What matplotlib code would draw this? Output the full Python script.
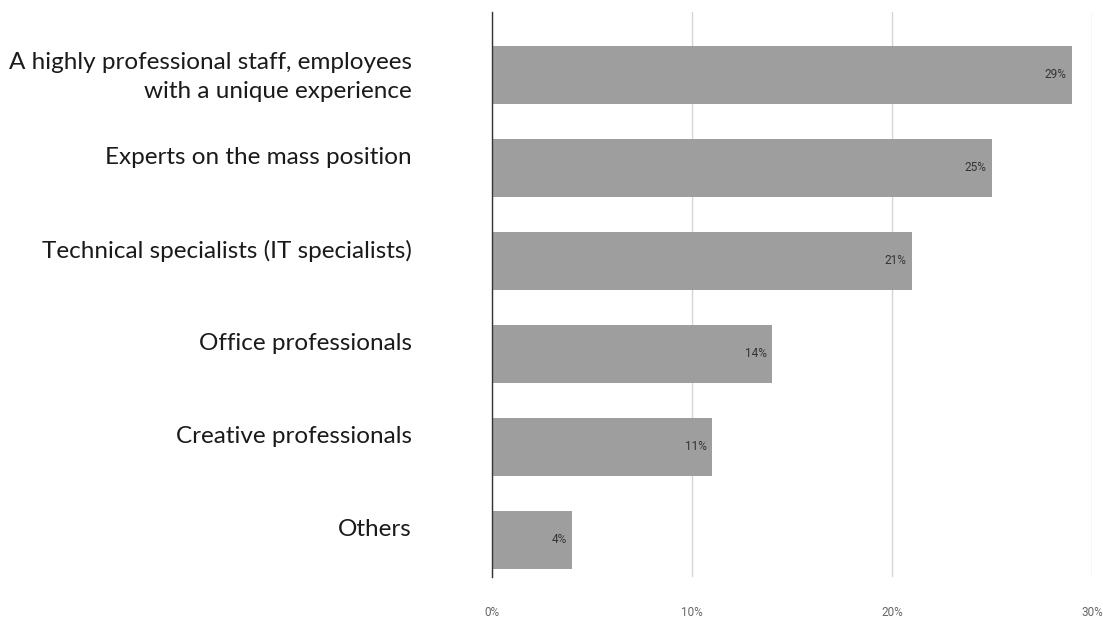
import matplotlib
matplotlib.use("Agg")
import matplotlib.pyplot as plt
import matplotlib.transforms as mtransforms
from matplotlib.ticker import FuncFormatter

categories = [
    "A highly professional staff, employees\nwith a unique experience",
    "Experts on the mass position",
    "Technical specialists (IT specialists)",
    "Office professionals",
    "Creative professionals",
    "Others",
]
values = [29, 25, 21, 14, 11, 4]
xticks = [0, 10, 20, 30]

W, H = 1103, 620
fig = plt.figure(figsize=(W / 100, H / 100), dpi=100)
ax = fig.add_axes([492 / W, 1 - 577 / H, (1092 - 492) / W, (577 - 12) / H])

pos = list(range(len(categories)))
ax.barh(pos, values, height=0.62, color="#9e9e9e", zorder=3)
ax.set_ylim(5.398, -0.677)
ax.set_xlim(0, 30)

for p, v in zip(pos, values):
    ax.annotate(f"{v}%", xy=(v, p), xytext=(-4, 0), textcoords="offset points",
                ha="right", va="center", fontsize=8.5, family="Roboto",
                color="#333333", zorder=4)

ax.set_xticks(xticks)
ax.xaxis.set_major_formatter(FuncFormatter(lambda x, _: f"{int(x)}%"))
ax.grid(axis="x", color="#d6d6d6", linewidth=1, zorder=0)
ax.tick_params(axis="x", length=0, pad=21, labelsize=8.5, labelcolor="#666666")
for lab in ax.get_xticklabels():
    lab.set_family("Roboto")

ax.set_yticks(pos)
ax.set_yticklabels(categories, fontsize=17.5, family="Lato", color="#1a1a1a",
                   ha="right", linespacing=1.5)
ax.tick_params(axis="y", length=0, pad=57.6)
for i, lab in enumerate(ax.get_yticklabels()):
    dy = 4 if "\n" in lab.get_text() else 12
    lab.set_transform(lab.get_transform() +
                      mtransforms.ScaledTranslation(0, dy / 100, fig.dpi_scale_trans))

for s in ["top", "right", "bottom"]:
    ax.spines[s].set_visible(False)
ax.spines["left"].set_color("#333333")
ax.spines["left"].set_linewidth(1)
ax.spines["left"].set_zorder(5)

fig.savefig("out.png", dpi=100)
